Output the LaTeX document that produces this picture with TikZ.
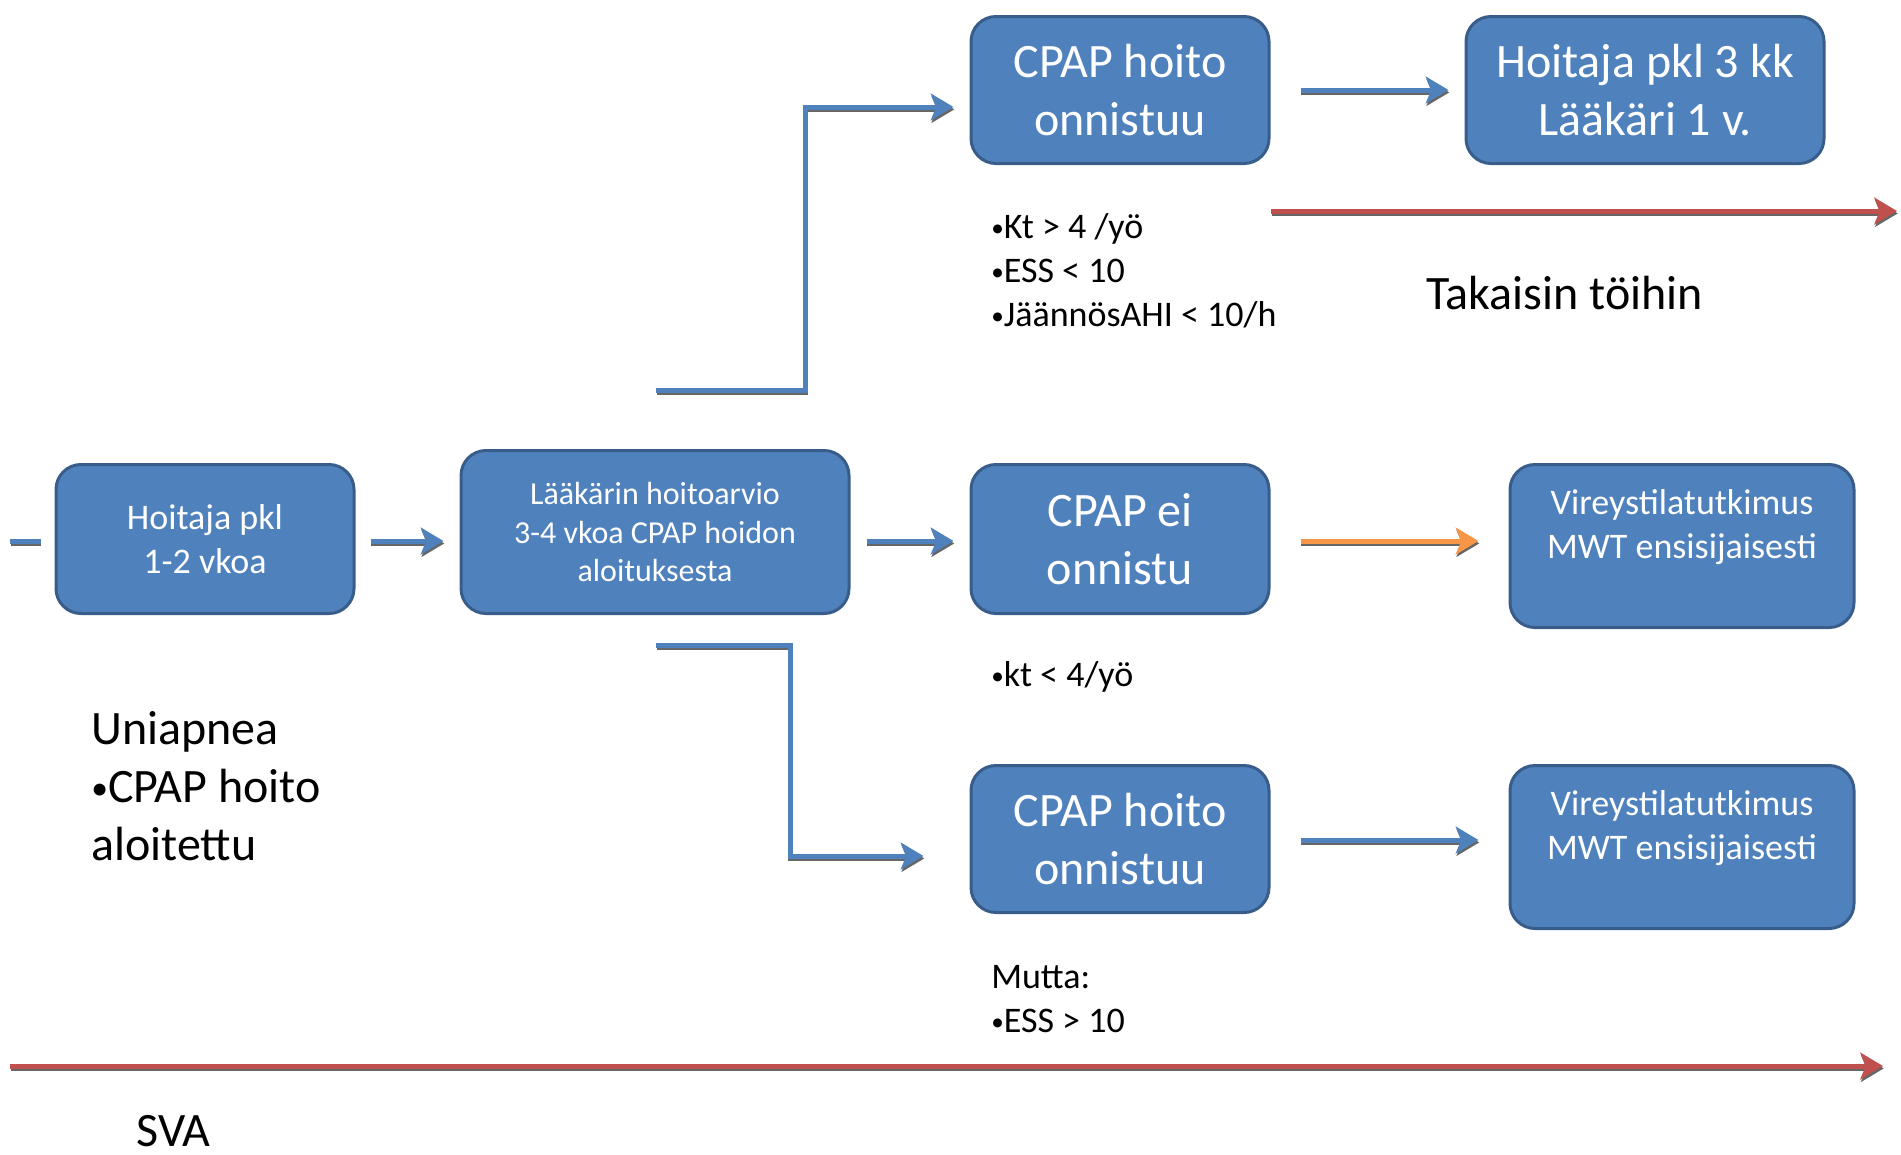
\documentclass[tikz,border=0pt]{standalone}
\usepackage{fontspec}
\setmainfont{Carlito}
\usetikzlibrary{arrows.meta,calc}
\newdimen\pxu \pxu=0.75pt
\newcommand{\pallo}{\raisebox{0.06em}{\scalebox{0.7}{•}}}
\definecolor{boxblue}{HTML}{4F81BD}
\definecolor{boxline}{HTML}{385D8A}
\definecolor{arrred}{HTML}{C0504D}
\definecolor{arrorange}{HTML}{F79646}
\begin{document}
\begin{tikzpicture}[x=0.75pt, y=-0.75pt,
        box/.style={draw=boxline, fill=boxblue, line width=3\pxu, rounded corners=25\pxu,
            text=white, align=center, inner sep=0pt},
        big/.style={font=\fontsize{36}{43.5}\selectfont},
        mid/.style={font=\fontsize{27}{33}\selectfont},
        small/.style={font=\fontsize{24}{29}\selectfont},
        txt/.style={anchor=west, align=left, inner sep=0pt},
        arr/.style={draw=boxblue, line width=5\pxu, -{Stealth[length=17pt,width=20pt,inset=4pt]},
            preaction={draw=black!60, line width=5\pxu, transform canvas={shift={(0.6pt,-1.8pt)}}}}]
\useasboundingbox (0,0) rectangle (1901,1154);

\node[box, mid, minimum width=298\pxu, minimum height=149\pxu] (hoitaja) at (205,539) {Hoitaja pkl\\1-2 vkoa};
\node[box, small, minimum width=388\pxu, minimum height=163\pxu] (arvio) at (655,532) {Lääkärin hoitoarvio\\3-4 vkoa CPAP hoidon\\aloituksesta};
\node[box, big, minimum width=298\pxu, minimum height=147\pxu] (ok1) at (1120,90) {CPAP hoito\\onnistuu};
\node[box, big, minimum width=358\pxu, minimum height=147\pxu] (kontrolli) at (1645,90) {Hoitaja pkl 3 kk\\Lääkäri 1 v.};
\node[box, big, minimum width=298\pxu, minimum height=149\pxu] (eiok) at (1120,539) {CPAP ei\\onnistu};
\node[box, mid, minimum width=344\pxu, minimum height=163\pxu] (mwt1) at (1682,546) {Vireystilatutkimus\\MWT ensisijaisesti\\\mbox{}};
\node[box, big, minimum width=298\pxu, minimum height=147\pxu] (ok2) at (1120,839) {CPAP hoito\\onnistuu};
\node[box, mid, minimum width=344\pxu, minimum height=163\pxu] (mwt2) at (1682,847) {Vireystilatutkimus\\MWT ensisijaisesti\\\mbox{}};

\node[txt, mid] (kriteerit) at (991,271) {\pallo Kt > 4 /yö\\\pallo ESS < 10\\\pallo JäännösAHI < 10/h};
\node[txt, big] (toihin) at (1426,293) {Takaisin töihin};
\node[txt, mid] (kt) at (991,677) {\pallo kt < 4/yö};
\node[txt, big] (uniapnea) at (91,786) {Uniapnea\\\pallo CPAP hoito\\aloitettu};
\node[txt, mid] (mutta) at (991,999) {Mutta:\\\pallo ESS > 10};
\node[txt, big] (sva) at (136,1131) {SVA};

\coordinate (alku) at (10,541);
\coordinate (haara1) at (656,390);
\coordinate (haara2) at (656,645);
\coordinate (puna1a) at (1271,211);
\coordinate (puna1b) at (1897,211);
\coordinate (puna2a) at (10,1066);
\coordinate (puna2b) at (1883,1066);

\draw[arr, -] (alku) -- ($(hoitaja.west)+(-14,2)$);
\draw[arr] ($(hoitaja.east)+(15,2)$) -- ($(arvio.west|-hoitaja.east)+(-16,2)$);
\draw[arr] ($(arvio.east|-eiok.west)+(16,2)$) -- ($(eiok.west)+(-16,2)$);
\draw[arr] (haara1) -- ++(149,0) |- ($(ok1.west)+(-16,17)$);
\draw[arr] (haara2) -- ++(134,0) |- ($(ok2.west)+(-46,17)$);
\draw[arr] ($(ok1.east)+(30,0)$) -- ($(kontrolli.west)+(-16,0)$);
\draw[arr, draw=arrorange] ($(eiok.east)+(30,2)$) -- ($(mwt1.west|-eiok.east)+(-30,2)$);
\draw[arr] ($(ok2.east)+(30,1)$) -- ($(mwt2.west|-ok2.east)+(-30,1)$);
\draw[arr, draw=arrred] (puna1a) -- (puna1b);
\draw[arr, draw=arrred] (puna2a) -- (puna2b);

\end{tikzpicture}
\end{document}
